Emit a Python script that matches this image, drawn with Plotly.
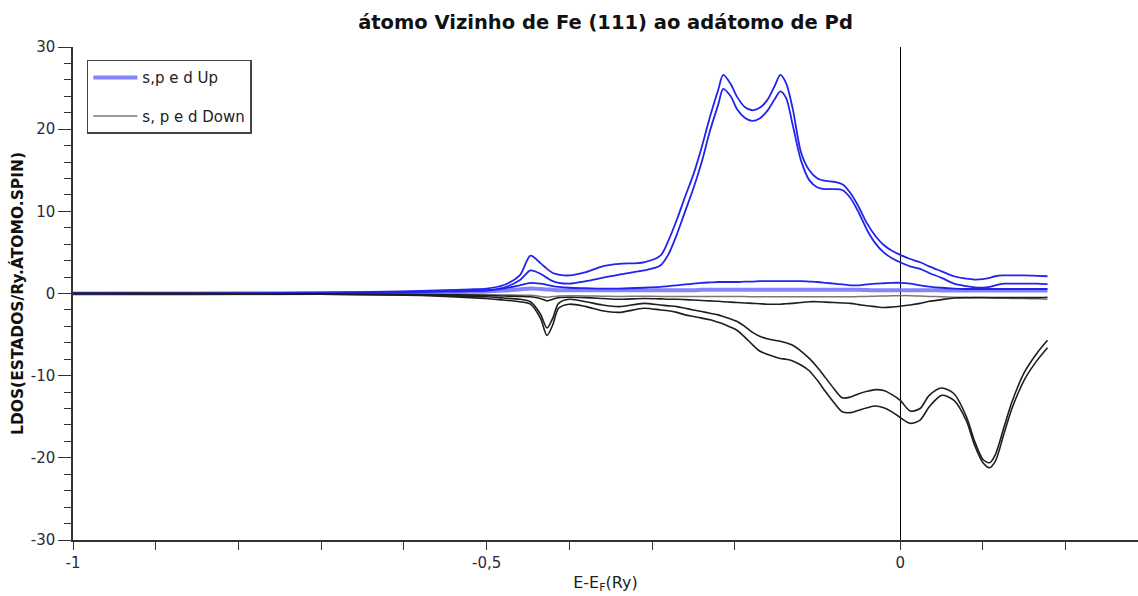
import plotly.graph_objects as go

# Energy grid E - E_F (Ry)
energy = [-1.0, -0.9, -0.8, -0.7, -0.6, -0.55, -0.52, -0.5, -0.48, -0.46,
          -0.447, -0.435, -0.427, -0.42, -0.413, -0.40, -0.38, -0.36, -0.34, -0.31,
          -0.29, -0.28, -0.27, -0.26, -0.25, -0.24, -0.23, -0.22, -0.214, -0.205,
          -0.197, -0.188, -0.179, -0.17, -0.161, -0.152, -0.145, -0.138, -0.13, -0.12,
          -0.11, -0.10, -0.09, -0.08, -0.07, -0.06, -0.05, -0.04, -0.03, -0.02,
          -0.01, 0.0, 0.012, 0.024, 0.035, 0.05, 0.065, 0.08, 0.09, 0.1,
          0.108, 0.115, 0.125, 0.135, 0.15, 0.165, 0.178]

# Spin up
up_total = [0.0, 0.02, 0.05, 0.1, 0.25, 0.4, 0.5, 0.6, 1.0, 2.2,
            4.6, 3.7, 3.0, 2.5, 2.3, 2.2, 2.6, 3.3, 3.6, 3.8,
            4.6, 6.5, 9.0, 11.8, 14.5, 17.8, 21.5, 24.8, 26.6, 25.5,
            23.9, 22.7, 22.3, 22.6, 23.5, 25.2, 26.6, 25.6, 22.5, 17.2,
            15.0, 14.0, 13.7, 13.6, 13.3, 12.2, 10.5, 8.5, 7.0, 5.9,
            5.2, 4.7, 4.2, 3.8, 3.3, 2.7, 2.1, 1.8, 1.7, 1.75,
            1.9, 2.1, 2.2, 2.2, 2.2, 2.15, 2.1]
up_d = [0.0, 0.01, 0.03, 0.07, 0.15, 0.25, 0.3, 0.4, 0.7, 1.6,
        2.8, 2.4, 1.9, 1.5, 1.3, 1.2, 1.5, 1.9, 2.3, 2.8,
        3.4, 4.8, 7.2, 10.0, 12.8, 16.0, 19.8, 23.0, 24.9, 24.0,
        22.4, 21.4, 21.0, 21.3, 22.2, 23.6, 24.6, 23.8, 20.5, 16.2,
        13.8, 12.9, 12.7, 12.7, 12.6, 11.6, 9.8, 7.7, 6.1, 5.0,
        4.3, 3.8, 3.3, 3.0, 2.5, 1.9, 1.2, 0.9, 0.75, 0.7,
        0.8, 1.0, 1.2, 1.2, 1.2, 1.2, 1.15]
up_p = [0.0, 0.01, 0.03, 0.06, 0.15, 0.25, 0.3, 0.35, 0.6, 1.0,
        1.3, 1.2, 1.05, 0.9, 0.8, 0.7, 0.65, 0.6, 0.6, 0.7,
        0.8, 0.9, 1.0, 1.1, 1.2, 1.3, 1.35, 1.4, 1.4, 1.4,
        1.4, 1.45, 1.45, 1.5, 1.5, 1.5, 1.5, 1.5, 1.5, 1.5,
        1.45, 1.4, 1.3, 1.2, 1.1, 1.0, 1.0, 1.1, 1.2, 1.25,
        1.3, 1.3, 1.2, 1.0, 0.85, 0.7, 0.6, 0.55, 0.55, 0.55,
        0.55, 0.55, 0.55, 0.55, 0.55, 0.55, 0.55]
up_s = [0.0, 0.0, 0.02, 0.05, 0.1, 0.15, 0.2, 0.25, 0.35, 0.5,
        0.6, 0.55, 0.5, 0.45, 0.4, 0.4, 0.4, 0.4, 0.4, 0.4,
        0.4, 0.4, 0.4, 0.4, 0.4, 0.45, 0.45, 0.45, 0.45, 0.45,
        0.45, 0.45, 0.45, 0.45, 0.45, 0.45, 0.45, 0.45, 0.45, 0.45,
        0.45, 0.45, 0.45, 0.45, 0.45, 0.45, 0.45, 0.42, 0.4, 0.4,
        0.4, 0.4, 0.4, 0.4, 0.4, 0.38, 0.36, 0.35, 0.35, 0.35,
        0.35, 0.35, 0.35, 0.35, 0.35, 0.35, 0.35]

# Spin down
down_total = [0.0, -0.02, -0.05, -0.1, -0.2, -0.35, -0.5, -0.6, -0.8, -1.0,
              -1.3, -3.0, -5.1, -3.8, -1.8, -1.3, -1.6, -2.1, -2.3, -1.8,
              -2.0, -2.1, -2.3, -2.6, -2.8, -3.0, -3.2, -3.5, -3.7, -4.1,
              -4.5, -5.3, -6.2, -7.0, -7.4, -7.7, -7.9, -8.0, -8.2, -8.7,
              -9.4, -10.6, -12.0, -13.3, -14.4, -14.5, -14.2, -13.9, -13.7, -13.9,
              -14.4, -15.1, -15.8, -15.4, -13.8, -12.4, -13.0, -15.5, -18.5, -20.6,
              -21.2, -20.4, -17.2, -14.0, -10.5, -8.2, -6.6]
down_d = [0.0, -0.01, -0.03, -0.07, -0.15, -0.25, -0.35, -0.4, -0.55, -0.7,
          -1.0, -2.5, -4.2, -3.0, -1.2, -0.7, -1.0, -1.4, -1.6, -1.2,
          -1.4, -1.5, -1.6, -1.8, -2.0, -2.2, -2.4, -2.6, -2.8, -3.1,
          -3.4, -4.0, -4.7, -5.2, -5.5, -5.7, -5.8, -6.0, -6.3, -7.0,
          -7.9, -9.0, -10.3, -11.6, -12.7, -12.6, -12.2, -11.9, -11.7, -11.8,
          -12.3, -13.0, -14.3, -14.0, -12.4, -11.5, -12.2, -15.0, -18.0, -20.2,
          -20.6, -19.6, -16.4, -13.2, -9.6, -7.3, -5.7]
down_p = [0.0, -0.01, -0.02, -0.05, -0.1, -0.15, -0.2, -0.25, -0.3, -0.35,
          -0.4, -0.6, -0.9, -0.7, -0.5, -0.45, -0.5, -0.6, -0.7, -0.6,
          -0.65, -0.7, -0.7, -0.75, -0.8, -0.85, -0.9, -0.95, -1.0, -1.05,
          -1.1, -1.15, -1.2, -1.25, -1.3, -1.3, -1.3, -1.25, -1.2, -1.1,
          -1.0, -1.0, -1.05, -1.1, -1.15, -1.2, -1.35, -1.5, -1.6, -1.7,
          -1.65, -1.55, -1.4, -1.2, -0.95, -0.75, -0.55, -0.5, -0.5, -0.5,
          -0.5, -0.5, -0.5, -0.5, -0.5, -0.5, -0.45]
down_s = [0.0, 0.0, -0.01, -0.03, -0.06, -0.1, -0.12, -0.15, -0.18, -0.2,
          -0.22, -0.35, -0.45, -0.38, -0.3, -0.28, -0.3, -0.32, -0.35, -0.33,
          -0.35, -0.35, -0.35, -0.35, -0.35, -0.35, -0.36, -0.37, -0.38, -0.38,
          -0.38, -0.38, -0.4, -0.4, -0.4, -0.4, -0.4, -0.4, -0.4, -0.4,
          -0.4, -0.4, -0.4, -0.4, -0.4, -0.4, -0.38, -0.35, -0.32, -0.3,
          -0.28, -0.26, -0.26, -0.3, -0.35, -0.4, -0.45, -0.5, -0.5, -0.5,
          -0.52, -0.55, -0.58, -0.6, -0.62, -0.65, -0.7]

x_major_vals = [-1.0, -0.5, 0.0]
x_major_text = ["-1", "-0,5", "0"]
x_minor_vals = [-0.9, -0.8, -0.7, -0.6, -0.4, -0.3, -0.2, 0.1, 0.2]
y_tick_vals = [-30, -20, -10, 0, 10, 20, 30]
y_tick_text = ["-30", "-20", "-10", "0", "10", "20", "30"]

FONT = "DejaVu Sans"
BLUE = "rgb(35,35,240)"
BLACK = "rgb(30,30,30)"

fig = go.Figure()

def add(y, color, width, name=None, group="up"):
    fig.add_trace(go.Scatter(
        x=energy, y=y, mode="lines", name=name, showlegend=name is not None,
        legendgroup=group,
        line=dict(color=color, width=width, shape="spline", smoothing=0.8)))

add(up_s, "rgba(110,110,255,0.85)", 4, "s,p e d Up", "up")
add(up_p, BLUE, 1.8, None, "up")
add(up_d, BLUE, 1.8, None, "up")
add(up_total, BLUE, 1.8, None, "up")

add(down_s, "rgb(120,120,120)", 1.5, "s, p e d Down", "down")
add(down_p, BLACK, 1.6, None, "down")
add(down_d, BLACK, 1.6, None, "down")
add(down_total, BLACK, 1.6, None, "down")

fig.update_layout(
    width=1138, height=596,
    margin=dict(l=73, r=0, t=47, b=56),
    paper_bgcolor="white", plot_bgcolor="white",
    font=dict(family=FONT, color="#2a2a3a", size=14),
    title=dict(text="<b>átomo Vizinho de Fe (111) ao adátomo de Pd</b>",
               x=0.5, xref="paper", xanchor="center",
               y=1 - 22 / 596, yref="container", yanchor="middle",
               font=dict(family=FONT, size=19.5, color="#111")),
    showlegend=True,
    legend=dict(x=0.013, y=0.974, xanchor="left", yanchor="top",
                bordercolor="#444", borderwidth=1.5, bgcolor="white",
                font=dict(family=FONT, size=15, color="#222"),
                traceorder="grouped", tracegroupgap=16, itemwidth=44),
    xaxis=dict(range=[-1.0, 0.2874], showline=True, linecolor="#333", linewidth=1.5,
               ticks="outside", ticklen=8, tickcolor="#333", tickwidth=1.2,
               tickmode="array", tickvals=x_major_vals, ticktext=x_major_text,
               minor=dict(tickmode="array", tickvals=x_minor_vals, ticks="outside",
                          ticklen=8, tickcolor="#333", tickwidth=1.2),
               showgrid=False, zeroline=True, zerolinecolor="black", zerolinewidth=1,
               tickfont=dict(size=15),
               title=dict(text="E-E<sub>F</sub>(Ry)", font=dict(size=16, color="#222"),
                          standoff=6)),
    yaxis=dict(range=[-30, 30], showline=True, linecolor="#333", linewidth=1.5,
               ticks="outside", ticklen=13, tickcolor="#333", tickwidth=1.2,
               tickmode="array", tickvals=y_tick_vals, ticktext=y_tick_text,
               minor=dict(dtick=2, ticks="outside", ticklen=7, tickcolor="#333", tickwidth=1.2),
               showgrid=False, zeroline=False, tickfont=dict(size=15),
               title=dict(text="<b>LDOS(ESTADOS/Ry.ÁTOMO.SPIN)</b>",
                          font=dict(size=15.5, color="#111"), standoff=3)),
)

fig.write_html("out.html")
